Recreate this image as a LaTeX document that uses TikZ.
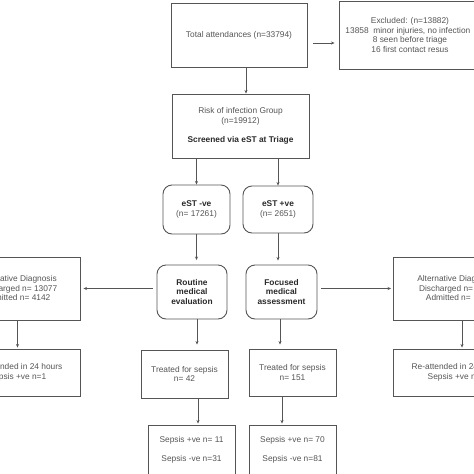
\documentclass[tikz,border=0pt]{standalone}
\usepackage{fontspec}
\setmainfont{Liberation Sans}
\usetikzlibrary{arrows.meta,calc}
\definecolor{txt}{HTML}{555555}
\definecolor{bd}{HTML}{555555}
\definecolor{btx}{HTML}{2a2a2a}
\newcommand\mybold[1]{{\color{btx}\bfseries #1}}
\begin{document}
\begin{tikzpicture}[x=1pt,y=-1pt,
  sz/.style 2 args={minimum width=#1pt, minimum height=#2pt},
  box/.style={draw=bd, line width=0.9pt, align=center, text=txt,
    font=\fontsize{8.35}{9.5}\selectfont, inner sep=0pt},
  rbox/.style={box, rounded corners=9pt},
  arr/.style={draw=bd, line width=0.8pt, -{Stealth[length=3.5pt,width=3pt]}}]
\useasboundingbox (0,0) rectangle (474,474);
\clip (0,0) rectangle (474,474);
\fill[white] (0,0) rectangle (474,474);

\node[box, sz={136}{64}] (total) at (239,35) {Total attendances (n=33794)};
\node[box, sz={142}{68}] (excl) at (410,35) {Excluded: (n=13882)\\13858\ \ minor injuries, no infection\phantom{s}\\8 seen before triage\\16 first contact resus};
\node[box, sz={137}{64}] (risk) at (240.5,126) {Risk of infection Group\\(n=19912)\\[9.5pt]\mybold{Screened via eST at Triage}};
\node[rbox, sz={67}{49}] (estn) at (196.5,209.5) {\mybold{eST -ve}\\(n= 17261)};
\node[rbox, sz={70}{47}] (estp) at (278,209.5) {\mybold{eST +ve}\\(n= 2651)};
\node[rbox, sz={70}{54}] (routine) at (192,292) {\mybold{Routine}\\\mybold{medical}\\\mybold{evaluation}};
\node[rbox, sz={71}{54}] (focused) at (281.5,292) {\mybold{Focused}\\\mybold{medical}\\\mybold{assessment}};
\node[box, sz={125}{63}] (altL) at (17.5,288.5) {Alternative Diagnosis\\Discharged n= 13077\\Admitted n= 4142};
\node[box, sz={127}{63}] (altR) at (456.5,288.5) {Alternative Diagnosis\\Discharged n=\phantom{ 0000}\\Admitted n=\phantom{ 000}};
\node[box, sz={125}{47}] (reL) at (17.5,372.5) {Re-attended in 24 hours\\Sepsis +ve n=1};
\node[box, sz={127}{47}] (reR) at (456.5,372.5) {Re-attended in 24 hours\\Sepsis +ve n=\phantom{1}};
\node[box, sz={87}{48}] (tr42) at (184.5,374) {Treated for sepsis\\n= 42};
\node[box, sz={87}{47}] (tr151) at (292.5,372.5) {Treated for sepsis\\n= 151};
\node[box, sz={87}{49}] (sepL) at (191.5,449.5) {Sepsis +ve n= 11\\[9.5pt]Sepsis -ve n=31};
\node[box, sz={87}{49}] (sepR) at (292.5,449.5) {Sepsis +ve n= 70\\[9.5pt]Sepsis -ve n=81};

\draw[arr] ([xshift=7pt]total.south) -- ([xshift=7pt]total.south |- risk.north);
\draw[arr] ([xshift=6pt,yshift=-8pt]total.east) -- ([xshift=-4pt,yshift=-8pt]total.east -| excl.west);
\draw[arr] (risk.south -| estn.north) -- (estn.north);
\draw[arr] (risk.south -| estp.north) -- (estp.north);
\draw[arr, shorten >=4.5pt] (estn.south) -- (estn.south |- routine.north);
\draw[arr, shorten >=4pt] (estp.south) -- (estp.south |- focused.north);
\draw[arr, shorten <=4pt, shorten >=3pt] (routine.west |- altL.east) -- (altL.east);
\draw[arr, shorten <=4pt, shorten >=1.5pt] (focused.east |- altR.west) -- (altR.west);
\draw[arr, shorten >=1pt] (altL.south) -- (reL.north);
\draw[arr, shorten >=1pt] ([xshift=5.5pt]altR.south) -- ([xshift=5.5pt]reR.north);
\draw[arr, shorten >=5pt] ([xshift=5pt]routine.south) -- ([xshift=5pt]routine.south |- tr42.north);
\draw[arr, shorten >=4pt] ([xshift=-1.5pt]focused.south) -- ([xshift=-1.5pt]focused.south |- tr151.north);
\draw[arr, shorten >=1pt] ([xshift=13.5pt]tr42.south) -- ([xshift=13.5pt]tr42.south |- sepL.north);
\draw[arr, shorten >=1pt] ([xshift=-10.5pt]tr151.south) -- ([xshift=-10.5pt]tr151.south |- sepR.north);
\end{tikzpicture}
\end{document}
